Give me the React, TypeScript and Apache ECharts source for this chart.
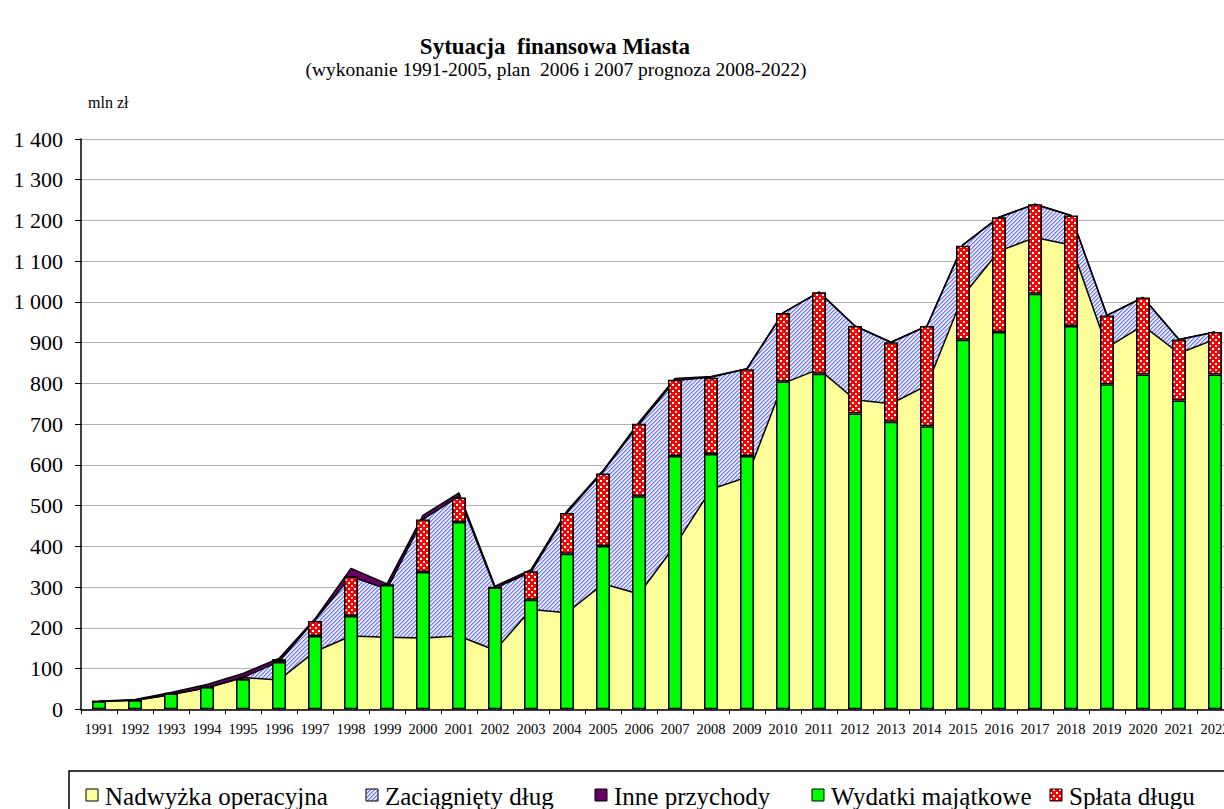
import React, { useEffect, useRef } from 'react';
import * as echarts from 'echarts';

const years = [
  '1991', '1992', '1993', '1994', '1995', '1996', '1997', '1998', '1999', '2000',
  '2001', '2002', '2003', '2004', '2005', '2006', '2007', '2008', '2009', '2010',
  '2011', '2012', '2013', '2014', '2015', '2016', '2017', '2018', '2019', '2020',
  '2021', '2022',
];

// Areas (revenues)
const nadwyzka = [19, 22, 36, 53, 78, 72, 142, 180, 177, 175, 180, 145, 245, 237, 308, 283, 402, 540, 570, 800, 835, 760, 750, 795, 1015, 1125, 1158, 1140, 888, 942, 874, 908];
const zaciagnietyDlug = [0, 0, 0, 0, 0, 45, 77, 146, 118, 291, 343, 152, 92, 246, 275, 417, 405, 275, 266, 173, 189, 181, 151, 146, 125, 83, 82, 72, 79, 69, 34, 18];
const innePrzychody = [1, 2, 5, 8, 10, 8, 3, 20, 13, 10, 8, 5, 6, 4, 3, 5, 5, 2, 0, 0, 0, 0, 0, 0, 0, 0, 0, 0, 0, 0, 0, 0];

// Bars (expenditures)
const wydatkiMajatkowe = [20, 22, 39, 54, 74, 116, 180, 229, 305, 337, 460, 299, 269, 382, 401, 523, 622, 627, 622, 805, 824, 726, 706, 695, 907, 926, 1020, 941, 798, 822, 758, 822];
const splataDlugu = [0, 0, 0, 0, 0, 7, 37, 97, 0, 129, 60, 0, 70, 100, 178, 178, 187, 187, 213, 168, 200, 215, 195, 246, 231, 282, 220, 271, 169, 189, 150, 104];

const seriesNames = ['Nadwyżka operacyjna', 'Zaciągnięty dług', 'Inne przychody', 'Wydatki majątkowe', 'Spłata długu'];
const titleText = 'Sytuacja  finansowa Miasta';
const subtitleText = '(wykonanie 1991-2005, plan  2006 i 2007 prognoza 2008-2022)';
const unitText = 'mln zł';

const FONT = '"Liberation Serif", "Times New Roman", serif';

function makeHatch() {
  const c = document.createElement('canvas');
  c.width = 4;
  c.height = 4;
  const g = c.getContext('2d');
  if (g) {
    g.fillStyle = '#e8eaff';
    g.fillRect(0, 0, 4, 4);
    g.fillStyle = '#6f76ff';
    for (let i = 0; i < 4; i++) {
      g.fillRect(i, 3 - i, 1, 1);
    }
    g.fillStyle = '#a9adff';
    for (let i = 0; i < 4; i++) {
      g.fillRect(i, (4 - i) % 4, 1, 1);
    }
  }
  return { image: c, repeat: 'repeat', imageWidth: 4, imageHeight: 4 } as any;
}

function makeChecker() {
  const c = document.createElement('canvas');
  c.width = 6;
  c.height = 6;
  const g = c.getContext('2d');
  if (g) {
    g.fillStyle = '#ff0000';
    g.fillRect(0, 0, 6, 6);
    g.fillStyle = '#ffffff';
    g.fillRect(0, 0, 2, 2);
    g.fillRect(3, 3, 2, 2);
  }
  return { image: c, repeat: 'repeat', imageWidth: 6, imageHeight: 6 } as any;
}

function fmt(v: number) {
  const s = String(Math.round(v));
  return s.replace(/\B(?=(\d{3})+(?!\d))/g, ' ');
}

export default function App() {
  const ref = useRef<HTMLDivElement>(null);

  useEffect(() => {
    if (!ref.current) return;
    const chart = echarts.init(ref.current, undefined, { renderer: 'svg' });
    const hatch = makeHatch();
    const checker = makeChecker();
    const colors: any[] = ['#ffff99', hatch, '#660066', '#00ff00', checker];

    const legendMarkX = [86, 366, 595, 812, 1050];
    const legendGraphics: any[] = [];
    seriesNames.forEach((n, i) => {
      legendGraphics.push({
        type: 'rect',
        shape: { x: legendMarkX[i], y: 789, width: 12, height: 12 },
        style: { fill: colors[i], stroke: '#000', lineWidth: 1 },
        z: 10,
      });
      legendGraphics.push({
        type: 'text',
        style: {
          text: n,
          x: legendMarkX[i] + 19,
          y: 796,
          font: `25px ${FONT}`,
          fill: '#000',
          align: 'left',
          verticalAlign: 'middle',
        },
        z: 10,
      });
    });

    const areaLine = { color: '#000', width: 1.5 };

    chart.setOption({
      animation: false,
      backgroundColor: '#ffffff',
      grid: { left: 81, right: 7, top: 139, bottom: 99.7, containLabel: false },
      xAxis: {
        type: 'category',
        data: years,
        boundaryGap: true,
        axisLine: { show: true, lineStyle: { color: '#000', width: 1.5 } },
        axisTick: { show: true, interval: 0, length: 5, lineStyle: { color: '#000', width: 1 } },
        axisLabel: { interval: 0, fontSize: 14.5, fontFamily: FONT, color: '#000', margin: 12 },
        splitLine: { show: false },
        z: 5,
      },
      yAxis: {
        type: 'value',
        min: 0,
        max: 1400,
        interval: 100,
        axisLine: { show: true, lineStyle: { color: '#000', width: 1.5 } },
        axisTick: { show: true, length: 6, lineStyle: { color: '#000', width: 1 } },
        axisLabel: { fontSize: 22, fontFamily: FONT, color: '#000', margin: 18, formatter: (v: number) => fmt(v) },
        splitLine: { show: true, lineStyle: { color: '#b0b0b0', width: 1.2 } },
      },
      graphic: [
        {
          type: 'text',
          style: { text: titleText, x: 555, y: 46, font: `bold 23px ${FONT}`, fill: '#000', align: 'center', verticalAlign: 'middle' },
        },
        {
          type: 'text',
          style: { text: subtitleText, x: 556, y: 69, font: `19.5px ${FONT}`, fill: '#000', align: 'center', verticalAlign: 'middle' },
        },
        {
          type: 'text',
          style: { text: unitText, x: 88, y: 102, font: `16px ${FONT}`, fill: '#000', align: 'left', verticalAlign: 'middle' },
        },
        {
          type: 'rect',
          shape: { x: 69, y: 771, width: 1220, height: 80 },
          style: { fill: 'none', stroke: '#000', lineWidth: 1.5 },
          z: 9,
        },
        ...legendGraphics,
      ],
      series: [
        {
          name: seriesNames[0],
          type: 'line',
          stack: 'dochody',
          data: nadwyzka,
          symbol: 'none',
          lineStyle: areaLine,
          areaStyle: { color: colors[0], opacity: 1 },
          itemStyle: { color: colors[0] },
          z: 2,
        },
        {
          name: seriesNames[1],
          type: 'line',
          stack: 'dochody',
          data: zaciagnietyDlug,
          symbol: 'none',
          lineStyle: areaLine,
          areaStyle: { color: colors[1], opacity: 1 },
          itemStyle: { color: '#aab0f0' },
          z: 2,
        },
        {
          name: seriesNames[2],
          type: 'line',
          stack: 'dochody',
          data: innePrzychody,
          symbol: 'none',
          lineStyle: areaLine,
          areaStyle: { color: colors[2], opacity: 1 },
          itemStyle: { color: colors[2] },
          z: 2,
        },
        {
          name: seriesNames[3],
          type: 'bar',
          stack: 'wydatki',
          data: wydatkiMajatkowe,
          barWidth: 14,
          itemStyle: { color: colors[3], borderColor: '#000', borderWidth: 1.5 },
          z: 3,
        },
        {
          name: seriesNames[4],
          type: 'bar',
          stack: 'wydatki',
          data: splataDlugu,
          barWidth: 14,
          itemStyle: { color: colors[4], borderColor: '#000', borderWidth: 1.5 },
          z: 3,
        },
      ],
    });

    return () => {
      chart.dispose();
    };
  }, []);

  return (
    <div style={{ position: 'fixed', left: 0, top: 0, width: 1224, height: 809, overflow: 'hidden', background: '#fff' }}>
      <div ref={ref} style={{ width: 1240, height: 809 }} />
    </div>
  );
}
